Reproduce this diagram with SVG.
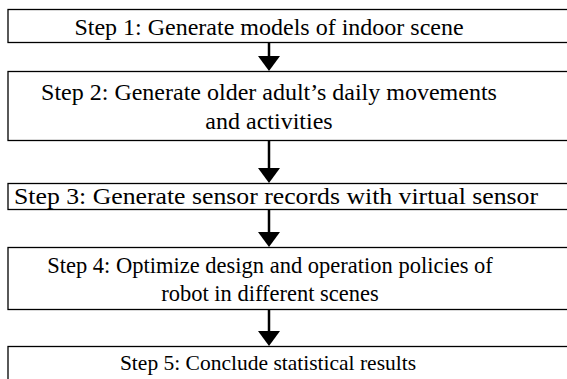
<svg xmlns="http://www.w3.org/2000/svg" width="567" height="379" viewBox="0 0 567 379">
  <defs>
    <style>
      .box { fill: #ffffff; stroke: #000000; stroke-width: 1.3; }
      .label { font-family: 'Liberation Serif', 'DejaVu Serif', serif; font-size: 24px; fill: #000000; text-anchor: middle; }
      .sm { font-size: 22.5px; }
      .xs { font-size: 21.5px; }
      .link { stroke: #000000; stroke-width: 2.5; fill: none; }
      .head { fill: #000000; }
    </style>
  </defs>
  <rect width="567" height="379" fill="#ffffff"/>

  <g id="step1">
    <rect class="box" x="8" y="9.5" width="570" height="33"/>
    <text class="label" x="269" y="35">Step 1: Generate models of indoor scene</text>
  </g>

  <g id="step2">
    <rect class="box" x="8" y="71.5" width="570" height="69"/>
    <text class="label" x="269" y="100">Step 2: Generate older adult’s daily movements</text>
    <text class="label" x="269" y="129">and activities</text>
  </g>

  <g id="step3">
    <rect class="box" x="8" y="183.5" width="570" height="26"/>
    <text class="label" x="276" y="204" textLength="524" lengthAdjust="spacingAndGlyphs">Step 3: Generate sensor records with virtual sensor</text>
  </g>

  <g id="step4">
    <rect class="box" x="8" y="247.5" width="570" height="62"/>
    <text class="label sm" x="270" y="273">Step 4: Optimize design and operation policies of</text>
    <text class="label sm" x="270" y="301">robot in different scenes</text>
  </g>

  <g id="step5">
    <rect class="box" x="8" y="346.5" width="570" height="40"/>
    <text class="label xs" x="268" y="370">Step 5: Conclude statistical results</text>
  </g>

  <g id="connectors">
    <line class="link" x1="269" y1="43" x2="269" y2="57"/>
    <polygon class="head" points="258,56 280,56 269,71"/>
    <line class="link" x1="269" y1="141" x2="269" y2="169"/>
    <polygon class="head" points="258,168 280,168 269,183"/>
    <line class="link" x1="269" y1="210" x2="269" y2="233"/>
    <polygon class="head" points="258,232 280,232 269,247"/>
    <line class="link" x1="269" y1="310" x2="269" y2="332"/>
    <polygon class="head" points="258,331 280,331 269,346"/>
  </g>
</svg>
